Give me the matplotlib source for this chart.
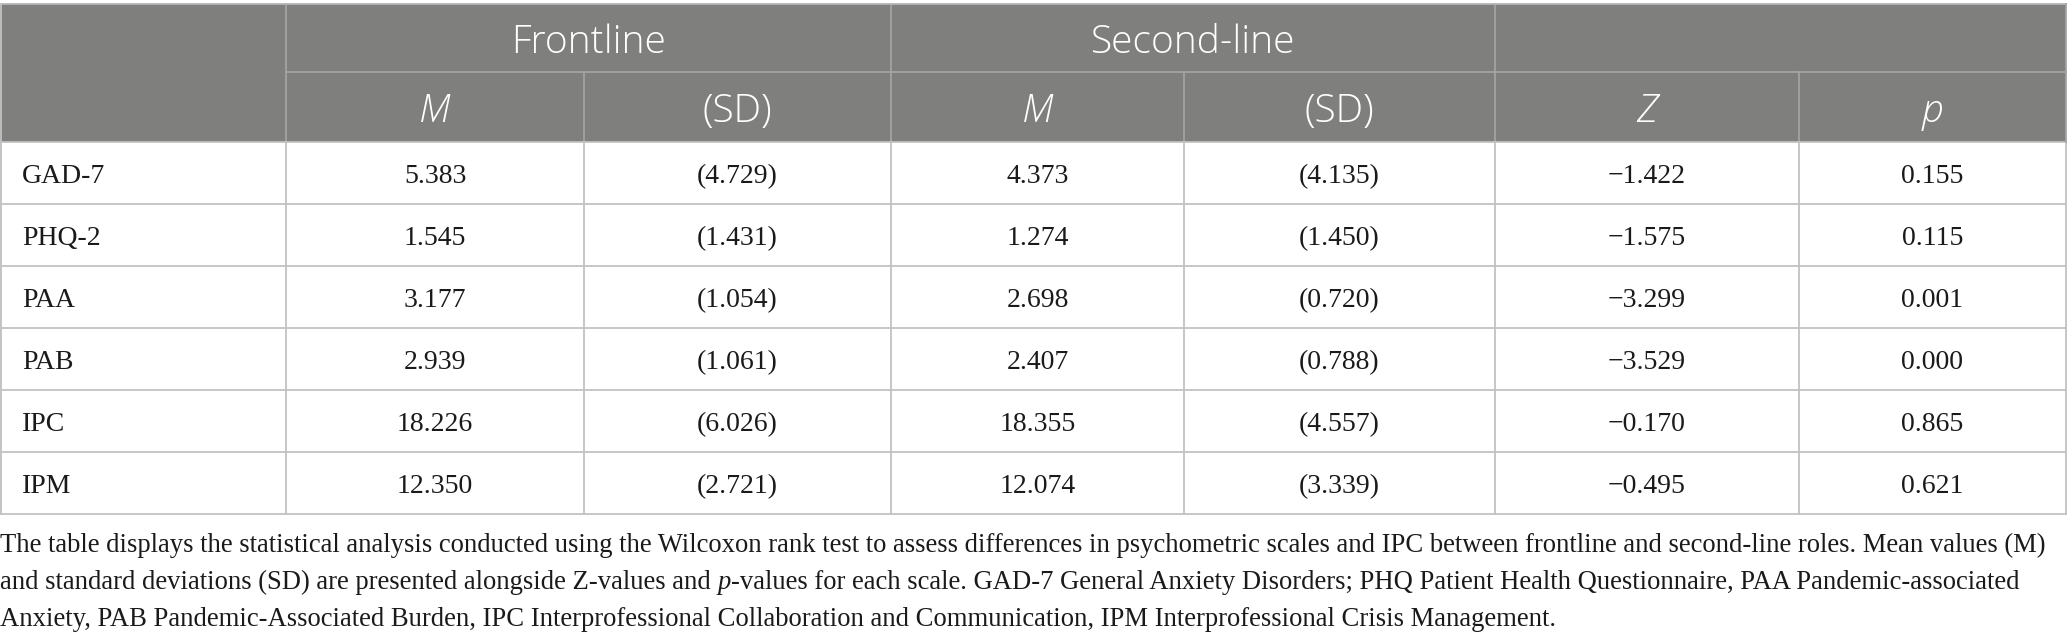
import matplotlib
matplotlib.use("Agg")
import matplotlib.pyplot as plt
from matplotlib.patches import Rectangle

# table values
scales = ['GAD-7', 'PHQ-2', 'PAA', 'PAB', 'IPC', 'IPM']
front_m = [5.383, 1.545, 3.177, 2.939, 18.226, 12.350]
front_sd = [4.729, 1.431, 1.054, 1.061, 6.026, 2.721]
second_m = [4.373, 1.274, 2.698, 2.407, 18.355, 12.074]
second_sd = [4.135, 1.450, 0.720, 0.788, 4.557, 3.339]
z_vals = [-1.422, -1.575, -3.299, -3.529, -0.170, -0.495]
p_vals = [0.155, 0.115, 0.001, 0.000, 0.865, 0.621]

groups = ['Frontline', 'Second-line']
sub_headers = ['M', '(SD)', 'M', '(SD)', 'Z', 'p']
sub_italic = [True, False, True, False, True, True]

caption = [
    [("The table displays the statistical analysis conducted using the Wilcoxon rank test to assess differences "
      "in psychometric scales and IPC between frontline and second-line roles. Mean values (M)", 'normal')],
    [("and standard deviations (SD) are presented alongside Z-values and ", 'normal'), ("p", 'italic'),
     ("-values for each scale. GAD-7 General Anxiety Disorders; PHQ Patient Health Questionnaire, "
      "PAA Pandemic-associated", 'normal')],
    [("Anxiety, PAB Pandemic-Associated Burden, IPC Interprofessional Collaboration and Communication, "
      "IPM Interprofessional Crisis Management.", 'normal')],
]

W, H = 2067, 641
HEAD_BG = '#7f807e'
HEAD_LINE = '#a3a4a2'
BODY_LINE = '#c2c2c2'
SERIF = 'Liberation Serif'
SANS = 'Open Sans'


def fmt(v):
    return f"{v:.3f}".replace('-', '\u2212')


def main():
    fig = plt.figure(figsize=(W / 100, H / 100), dpi=100)
    ax = fig.add_axes([0, 0, 1, 1])
    ax.set_xlim(0, W)
    ax.set_ylim(H, 0)
    ax.axis('off')

    cols = [0, 286, 584, 891, 1184, 1495, 1799, 2066]
    top, mid, head_bot = 4, 72, 142
    row_h = 62
    n = len(scales)
    bottom = head_bot + n * row_h

    # header background
    ax.add_patch(Rectangle((0, top), cols[-1], head_bot - top, facecolor=HEAD_BG, edgecolor='none'))

    lw = 1.3
    # header lines
    ax.plot([cols[1], cols[-1]], [mid, mid], color=HEAD_LINE, lw=lw)
    for x in [cols[1], cols[3], cols[5]]:
        ax.plot([x, x], [top, mid], color=HEAD_LINE, lw=lw)
    for x in cols[1:-1]:
        ax.plot([x, x], [mid, head_bot], color=HEAD_LINE, lw=lw)
    ax.plot([0, cols[-1]], [top, top], color='#b5b5b5', lw=lw)

    # body lines
    for i in range(n + 1):
        y = head_bot + i * row_h
        ax.plot([0, cols[-1]], [y, y], color=BODY_LINE, lw=lw)
    for x in cols:
        ax.plot([x, x], [head_bot, bottom], color=BODY_LINE, lw=lw)
    ax.plot([0.8, 0.8], [top, bottom], color=BODY_LINE, lw=lw)
    ax.plot([cols[-1], cols[-1]], [top, head_bot], color=HEAD_LINE, lw=lw)

    # header text
    for k, g in enumerate(groups):
        cx = (cols[1 + 2 * k] + cols[3 + 2 * k]) / 2
        ax.text(cx, 53, g, ha='center', va='baseline', color='white',
                fontsize=28, family=SANS, fontweight='light')
    for j, s in enumerate(sub_headers):
        cx = (cols[j + 1] + cols[j + 2]) / 2
        ax.text(cx, 122, s, ha='center', va='baseline', color='white', fontsize=28,
                family=SANS, fontweight='light', style='italic' if sub_italic[j] else 'normal')

    # body text
    for i in range(n):
        yb = head_bot + i * row_h + 41
        ax.text(22, yb, scales[i], ha='left', va='baseline', fontsize=20, family=SERIF, color='#1a1a1a')
        vals = [fmt(front_m[i]), '(' + fmt(front_sd[i]) + ')', fmt(second_m[i]),
                '(' + fmt(second_sd[i]) + ')', fmt(z_vals[i]), fmt(p_vals[i])]
        for j, v in enumerate(vals):
            cx = (cols[j + 1] + cols[j + 2]) / 2
            ax.text(cx, yb, v, ha='center', va='baseline', fontsize=20, family=SERIF, color='#1a1a1a')

    # caption, sized so the first line fills the width
    fig.canvas.draw()
    renderer = fig.canvas.get_renderer()
    probe = ax.text(0, 0, caption[0][0][0], fontsize=20, family=SERIF)
    wpx = probe.get_window_extent(renderer).width
    probe.remove()
    cap_fs = 20 * 2046 / wpx

    baselines = [552, 589, 626]
    for line, yb in zip(caption, baselines):
        x = 0
        for txt, st in line:
            t = ax.text(x, yb, txt, ha='left', va='baseline', fontsize=cap_fs,
                        family=SERIF, style=st, color='#1a1a1a')
            x += t.get_window_extent(renderer).width

    fig.savefig('out.png', dpi=100)


if __name__ == "__main__":
    main()
